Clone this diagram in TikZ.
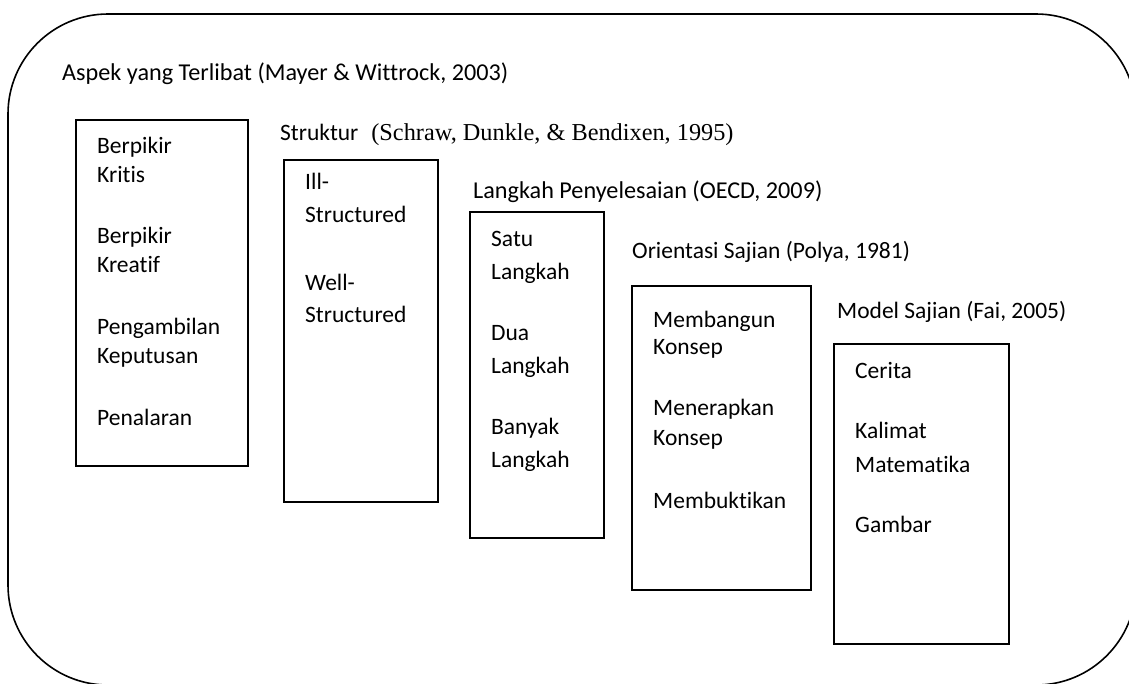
\documentclass[tikz,border=0pt]{standalone}
\usepackage{fontspec}
\setmainfont{Carlito}[Ligatures=NoCommon]
\newfontfamily\tnr{Liberation Serif}
\begin{document}
\begin{tikzpicture}[x=1pt,y=-1pt,
  txt/.style={inner sep=0pt, anchor=base west, font=\fontsize{23.5}{28}\selectfont},
  boxnode/.style={draw, line width=2.2pt, anchor=north west, inner sep=0pt, outer sep=0pt},
  outer/.style={draw, line width=1.6pt, anchor=north west, inner sep=0pt, outer sep=0pt, rounded corners=100pt}]
\useasboundingbox (0,0) rectangle (1129,683);
\clip (0,0) rectangle (1129,683);
\node[outer, minimum width=1128pt, minimum height=671pt] (frame) at (8,14) {};
% headers
\node[txt, font=\fontsize{24.2}{28}\selectfont] (h1) at (62,80) {Aspek yang Terlibat (Mayer \& Wittrock, 2003)};
\node[txt] (h2) at (280,140) {Struktur\hspace{13pt}{\tnr\fontsize{24.3}{28}\selectfont (Schraw, Dunkle, \& Bendixen, 1995)}};
\node[txt, font=\fontsize{24.2}{28}\selectfont] (h3) at (473,198) {Langkah Penyelesaian (OECD, 2009)};
\node[txt] (h4) at (632,258) {Orientasi Sajian (Polya, 1981)};
\node[txt] (h5) at (837,318) {Model Sajian (Fai, 2005)};
% boxes
\node[boxnode, minimum width=172pt, minimum height=346pt] (B1) at (76,120) {};
\node[boxnode, minimum width=154pt, minimum height=342pt] (B2) at (284,160) {};
\node[boxnode, minimum width=134pt, minimum height=326pt] (B3) at (470,212) {};
\node[boxnode, minimum width=179pt, minimum height=304pt] (B4) at (632,286) {};
\node[boxnode, minimum width=175pt, minimum height=300pt] (B5) at (834,344) {};
% items
\foreach \t/\yy [count=\i] in {Berpikir/153, Kritis/182, Berpikir/243, Kreatif/272, Pengambilan/334, Keputusan/363, Penalaran/425}
  \node[txt] (a\i) at (97,\yy) {\t};
\foreach \t/\yy [count=\i] in {Ill-/189, Structured/222, Well-/290, Structured/322}
  \node[txt] (b\i) at (305,\yy) {\t};
\foreach \t/\yy [count=\i] in {Satu/246, Langkah/279, Dua/340, Langkah/373, Banyak/434, Langkah/467}
  \node[txt] (c\i) at (491,\yy) {\t};
\foreach \t/\yy [count=\i] in {Membangun/327, Konsep/354, Menerapkan/415, Konsep/445, Membuktikan/508}
  \node[txt] (d\i) at (653,\yy) {\t};
\foreach \t/\yy [count=\i] in {Cerita/378, Kalimat/438, Matematika/472, Gambar/532}
  \node[txt] (e\i) at (855,\yy) {\t};
\end{tikzpicture}
\end{document}
